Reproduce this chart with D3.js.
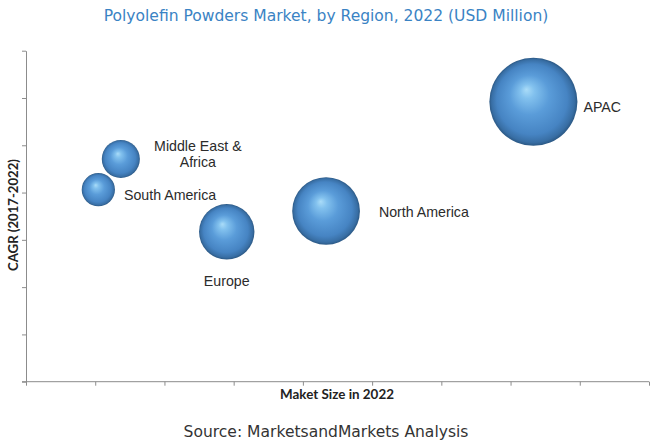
<!DOCTYPE html>
<html>
<head>
<meta charset="utf-8">
<script src="https://cdn.jsdelivr.net/npm/d3@7"></script>
<style>
  body { margin: 0; background: #fff; }
  svg { display: block; }
</style>
</head>
<body>
<script>
// regions, market size 2022 (USD Million) and CAGR (%)
const regions = ["APAC", "North America", "Europe", "Middle East & Africa", "South America"];
const marketSize = [7330, 4335, 2900, 1370, 1045];
const cagr = [5.92, 3.61, 3.17, 4.71, 4.06];
const xTicks = [0, 1000, 2000, 3000, 4000, 5000, 6000, 7000, 8000, 9000];
const yTicks = [0, 1, 2, 3, 4, 5, 6, 7];

const W = 650, H = 443;
const margin = { top: 50.7, right: 1, bottom: 61.3, left: 26 };

const svg = d3.select("body").append("svg")
    .attr("width", W)
    .attr("height", H);

const x = d3.scaleLinear().domain([0, 9000]).range([margin.left, W - margin.right]);
const y = d3.scaleLinear().domain([0, 7]).range([H - margin.bottom, margin.top]);
// bubble area follows market size
const r = d3.scaleSqrt().domain([0, 9000]).range([0, 48.8]);

// sphere look
const defs = svg.append("defs");
const grad = defs.append("radialGradient")
    .attr("id", "ball")
    .attr("cx", "50%").attr("cy", "50%").attr("r", "50%")
    .attr("fx", "42%").attr("fy", "36%");
grad.append("stop").attr("offset", "0%").attr("stop-color", "#aadcf8");
grad.append("stop").attr("offset", "16%").attr("stop-color", "#82c1ee");
grad.append("stop").attr("offset", "45%").attr("stop-color", "#5a9cd9");
grad.append("stop").attr("offset", "80%").attr("stop-color", "#4684c3");
grad.append("stop").attr("offset", "94%").attr("stop-color", "#386ea4");
grad.append("stop").attr("offset", "100%").attr("stop-color", "#2b5884");

// axes
const xAxis = svg.append("g")
    .attr("transform", "translate(0," + y(0) + ")")
    .call(d3.axisBottom(x).tickValues(xTicks).tickSize(4).tickSizeOuter(0).tickFormat(""));
const yAxis = svg.append("g")
    .attr("transform", "translate(" + x(0) + ",0)")
    .call(d3.axisLeft(y).tickValues(yTicks).tickSize(4).tickSizeOuter(0).tickFormat(""));
svg.selectAll(".domain, .tick line").attr("stroke", "#8c8c8c");
// x axis line runs a bit past the y axis
xAxis.select(".domain").attr("d", "M" + (x(0) - 4) + ",0H" + x(9000));

// bubbles
const data = regions.map((d, i) => ({ name: d, size: marketSize[i], cagr: cagr[i] }));
svg.append("g").selectAll("circle")
    .data(data)
    .join("circle")
    .attr("cx", d => x(d.size))
    .attr("cy", d => y(d.cagr))
    .attr("r", d => r(d.size))
    .attr("fill", "url(#ball)");

// bubble labels: gap from bubble edge (side labels) or offsets from centre
const labelPos = {
    "APAC": { side: true, gap: 6, dy: 10, lines: ["APAC"] },
    "North America": { side: true, gap: 19, dy: 6, lines: ["North America"] },
    "Europe": { side: false, dx: 0, dy: 54, lines: ["Europe"] },
    "Middle East & Africa": { side: false, dx: 77, dy: -8, lines: ["Middle East &", "Africa"] },
    "South America": { side: true, gap: 9, dy: 10, lines: ["South America"] }
};
const labels = svg.append("g")
    .style("font-family", "'Liberation Sans', Arial, sans-serif")
    .style("font-size", "14.2px")
    .attr("fill", "#2b2b2b");
data.forEach(d => {
    const p = labelPos[d.name];
    const cx = x(d.size), cy = y(d.cagr), rr = r(d.size);
    const lx = p.side ? cx + rr + p.gap : cx + p.dx;
    const ly = cy + p.dy;
    const t = labels.append("text")
        .attr("x", lx)
        .attr("y", ly)
        .attr("text-anchor", p.side ? "start" : "middle");
    p.lines.forEach((ln, i) => {
        t.append("tspan").attr("x", lx).attr("dy", i === 0 ? 0 : 16).text(ln);
    });
});

// fit a text element to a measured width by changing its font size
function fit(sel, width) {
    const fs = parseFloat(sel.style("font-size"));
    const len = sel.node().getComputedTextLength();
    sel.style("font-size", (fs * width / len) + "px");
}

// title
const title = svg.append("text")
    .attr("x", 326)
    .attr("y", 21)
    .attr("text-anchor", "middle")
    .attr("fill", "#3a83c4")
    .style("font-family", "'DejaVu Sans', Verdana, sans-serif")
    .style("font-size", "14px")
    .text("Polyolefin Powders Market, by Region, 2022 (USD Million)");
fit(title, 445);

// axis titles
const xTitle = svg.append("text")
    .attr("x", 337)
    .attr("y", 399)
    .attr("text-anchor", "middle")
    .attr("fill", "#222")
    .style("font-family", "Lato, 'Open Sans', sans-serif")
    .style("font-weight", "bold")
    .style("font-size", "12px")
    .text("Maket Size in 2022");
fit(xTitle, 114);

const yTitle = svg.append("text")
    .attr("transform", "translate(18," + 215 + ") rotate(-90)")
    .attr("text-anchor", "middle")
    .attr("fill", "#222")
    .style("font-family", "Lato, 'Open Sans', sans-serif")
    .style("font-weight", "bold")
    .style("font-size", "12px")
    .text("CAGR (2017-2022)");
fit(yTitle, 112);

// source
const source = svg.append("text")
    .attr("x", 326)
    .attr("y", 437)
    .attr("text-anchor", "middle")
    .attr("fill", "#333")
    .style("font-family", "'DejaVu Sans', Verdana, sans-serif")
    .style("font-size", "14px")
    .text("Source: MarketsandMarkets Analysis");
fit(source, 285);
</script>
</body>
</html>
